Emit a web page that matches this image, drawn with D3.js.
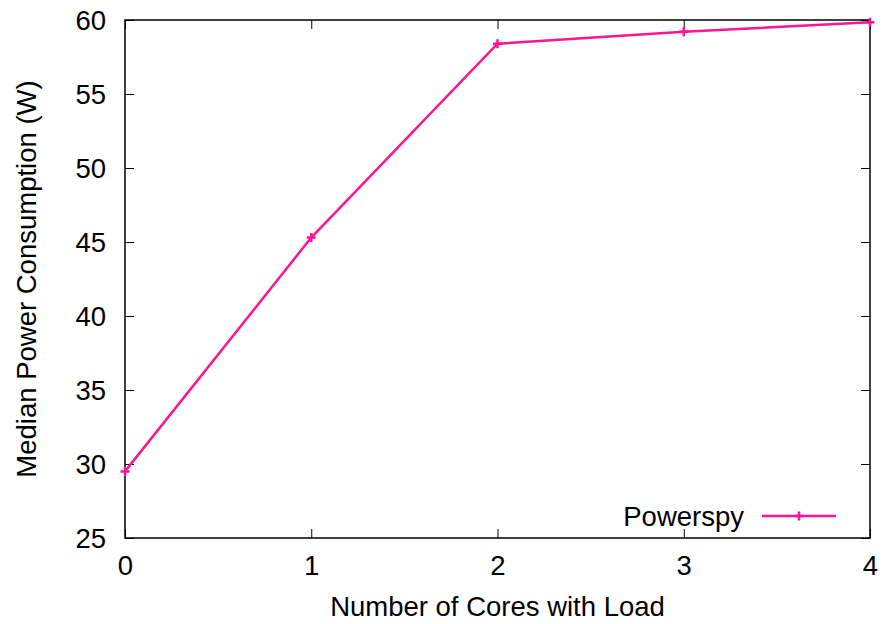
<!DOCTYPE html>
<html>
<head>
<meta charset="utf-8">
<script src="https://cdn.jsdelivr.net/npm/d3@7"></script>
<style>
  html, body { margin: 0; padding: 0; background: #fff; }
  svg text { font-family: "Liberation Sans", Arial, sans-serif; fill: #000; }
</style>
</head>
<body>
<svg id="chart" width="883" height="624"></svg>
<script>
// Median power draw as more cores are loaded
const cores = [0, 1, 2, 3, 4];
const powerW = [29.5, 45.3, 58.4, 59.2, 59.85];
const xTicks = [0, 1, 2, 3, 4];
const yTicks = [25, 30, 35, 40, 45, 50, 55, 60];
const seriesName = "Powerspy";

const svg = d3.select("#chart");
const m = { left: 125, right: 870, top: 20, bottom: 538 };
const color = "#ff1493";
const fs = 27.5;

const x = d3.scaleLinear().domain([0, 4]).range([m.left, m.right]);
const y = d3.scaleLinear().domain([25, 60]).range([m.bottom, m.top]);
const tickLen = 9;

// axes with inward ticks, mirrored on top/right
const gx = svg.append("g").attr("transform", `translate(0,${m.bottom})`)
  .call(d3.axisBottom(x).tickValues(xTicks).tickSize(-tickLen).tickPadding(17).tickFormat(d3.format("d")));
const gxTop = svg.append("g").attr("transform", `translate(0,${m.top})`)
  .call(d3.axisTop(x).tickValues(xTicks).tickSize(-tickLen).tickFormat(""));
const gy = svg.append("g").attr("transform", `translate(${m.left},0)`)
  .call(d3.axisLeft(y).tickValues(yTicks).tickSize(-tickLen).tickPadding(19).tickFormat(d3.format("d")));
const gyR = svg.append("g").attr("transform", `translate(${m.right},0)`)
  .call(d3.axisRight(y).tickValues(yTicks).tickSize(-tickLen).tickFormat(""));

[gx, gxTop, gy, gyR].forEach(g => {
  g.select(".domain").remove();
  g.selectAll(".tick line").attr("stroke", "#000").attr("stroke-width", 1);
  g.selectAll(".tick text").attr("font-size", fs).attr("font-family", "Liberation Sans, Arial, sans-serif");
});
gy.selectAll(".tick text").attr("dy", "0.36em");

// frame
svg.append("rect")
  .attr("x", m.left).attr("y", m.top)
  .attr("width", m.right - m.left).attr("height", m.bottom - m.top)
  .attr("fill", "none").attr("stroke", "#000").attr("stroke-width", 1.5);

// data line
const pts = cores.map((c, i) => [c, powerW[i]]);
svg.append("path")
  .datum(pts)
  .attr("fill", "none").attr("stroke", color).attr("stroke-width", 2.5)
  .attr("d", d3.line().x(d => x(d[0])).y(d => y(d[1])));

const plus = (g, cx, cy, s) => {
  g.append("path")
    .attr("d", `M${cx - s},${cy}H${cx + s}M${cx},${cy - s}V${cy + s}`)
    .attr("stroke", color).attr("stroke-width", 2.5).attr("fill", "none");
};
pts.forEach(d => plus(svg, x(d[0]), y(d[1]), 4.5));

// legend
const ly = 516;
svg.append("text").attr("x", 744).attr("y", ly).attr("dy", "0.36em")
  .attr("text-anchor", "end").attr("font-size", fs).text(seriesName);
svg.append("line").attr("x1", 762).attr("x2", 836).attr("y1", ly).attr("y2", ly)
  .attr("stroke", color).attr("stroke-width", 2.5);
plus(svg, 799, ly, 4.5);

// axis titles
svg.append("text").attr("x", (m.left + m.right) / 2).attr("y", 616)
  .attr("text-anchor", "middle").attr("font-size", fs).text("Number of Cores with Load");
svg.append("text").attr("transform", `translate(36,${(m.top + m.bottom) / 2}) rotate(-90)`)
  .attr("text-anchor", "middle").attr("font-size", fs).text("Median Power Consumption (W)");
</script>
</body>
</html>
